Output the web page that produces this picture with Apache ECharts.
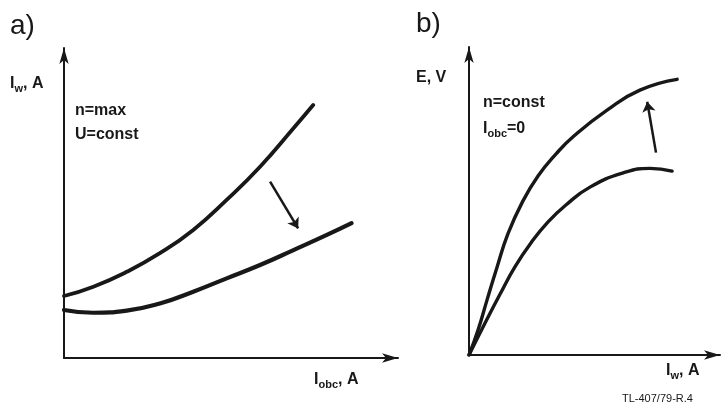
<!DOCTYPE html>
<html>
<head>
<meta charset="utf-8">
<script src="https://cdn.jsdelivr.net/npm/echarts@6/dist/echarts.min.js"></script>
<style>html,body{margin:0;padding:0;background:#fff}#c{width:722px;height:408px}</style>
</head>
<body>
<div id="c"></div>
<script>
// Panel a) : I_w versus I_obc (relative units 0..100)
const aUpperX = [0, 8.8, 18.8, 28.7, 38.7, 48.7, 58.7, 68.7, 74.6];
const aUpperY = [20.0, 23.0, 27.8, 33.8, 41.3, 51.0, 61.7, 74.1, 81.6];
const aLowerX = [0, 8.7, 18.8, 28.7, 38.7, 48.7, 58.7, 68.7, 78.7, 86.1];
const aLowerY = [15.5, 14.6, 15.3, 17.6, 21.4, 25.7, 30.0, 34.8, 39.7, 43.5];
const aArrow = [[61.7, 56.9], [70.1, 41.8]];
// Panel b) : E versus I_w
const bUpperX = [0, 3.6, 7.2, 11.2, 15.5, 21.1, 27.5, 34.7, 41.8, 55.0, 68.1, 82.9];
const bUpperY = [0, 8.1, 17.9, 28.6, 39.3, 49.4, 58.1, 65.3, 71.1, 79.5, 86.0, 89.5];
const bLowerX = [0, 6.4, 12.4, 18.3, 24.7, 31.5, 38.6, 48.2, 61.4, 72.1, 80.9];
const bLowerY = [0, 10.4, 19.8, 28.6, 36.4, 43.2, 48.7, 54.5, 59.1, 60.6, 59.7];
const bArrow = [[74.5, 65.7], [71.0, 82.2]];

const ink = '#181818';
const font = 'Liberation Sans';
const zip = (xs, ys) => xs.map((x, i) => [x, ys[i]]);

function axis(gi) {
  return {
    gridIndex: gi, type: 'value', min: 0, max: 100,
    axisLabel: {show: false}, axisTick: {show: false}, splitLine: {show: false},
    axisLine: {show: true, lineStyle: {color: ink, width: 2}, symbol: ['none', 'arrow'], symbolSize: [7, 16]}
  };
}
function curve(gi, data, w) {
  return {type: 'line', xAxisIndex: gi, yAxisIndex: gi, data: data, smooth: 0.5, showSymbol: false,
    lineStyle: {color: ink, width: w, cap: 'round'}, silent: true};
}
function arrow(gi, pts) {
  return {type: 'lines', coordinateSystem: 'cartesian2d', xAxisIndex: gi, yAxisIndex: gi,
    symbol: ['none', 'arrow'], symbolSize: 10, silent: true,
    lineStyle: {color: ink, width: 2.5, opacity: 1}, data: [{coords: pts}]};
}
const rich = {
  a: {fontFamily: font, fontSize: 16, fontWeight: 'bold', color: ink, lineHeight: 20},
  s: {fontFamily: font, fontSize: 11, fontWeight: 'bold', color: ink, lineHeight: 20, padding: [9, 0, 0, 0]},
  n: {fontFamily: font, fontSize: 16, fontWeight: 'bold', color: ink, lineHeight: 22},
  ns: {fontFamily: font, fontSize: 11, fontWeight: 'bold', color: ink, lineHeight: 22, padding: [9, 0, 0, 0]}
};
function txt(x, y, t) {
  return {type: 'text', left: x, top: y, style: {text: t, rich: rich, fill: ink, font: 'bold 16px "' + font + '"'}};
}

const chart = echarts.init(document.getElementById('c'), null, {renderer: 'canvas'});
chart.setOption({
  backgroundColor: '#ffffff',
  animation: false,
  grid: [
    {left: 64, top: 48, width: 334, height: 310},
    {left: 469, top: 47, width: 251, height: 308}
  ],
  xAxis: [axis(0), axis(1)],
  yAxis: [axis(0), axis(1)],
  series: [
    curve(0, zip(aUpperX, aUpperY), 3.8),
    curve(0, zip(aLowerX, aLowerY), 4.2),
    arrow(0, aArrow),
    curve(1, zip(bUpperX, bUpperY), 3.4),
    curve(1, zip(bLowerX, bLowerY), 3.4),
    arrow(1, bArrow)
  ],
  graphic: [
    {type: 'text', left: 10, top: 12, style: {text: 'a)', font: '28px "' + font + '"', fill: ink}},
    {type: 'text', left: 416, top: 10, style: {text: 'b)', font: '28px "' + font + '"', fill: ink}},
    txt(10, 74, '{a|I}{s|w}{a|, A}'),
    txt(314, 370, '{a|I}{s|obc}{a|, A}'),
    txt(75, 103, '{n|n=max}'),
    txt(75, 127, '{n|U=const}'),
    txt(416, 70, '{a|E, V}'),
    txt(483, 95, '{n|n=const}'),
    txt(483, 119, '{n|I}{ns|obc}{n|=0}'),
    txt(666, 361, '{a|I}{s|w}{a|, A}'),
    {type: 'text', left: 622, top: 393, style: {text: 'TL-407/79-R.4', font: '11px "' + font + '"', fill: ink}}
  ]
});
</script>
</body>
</html>
